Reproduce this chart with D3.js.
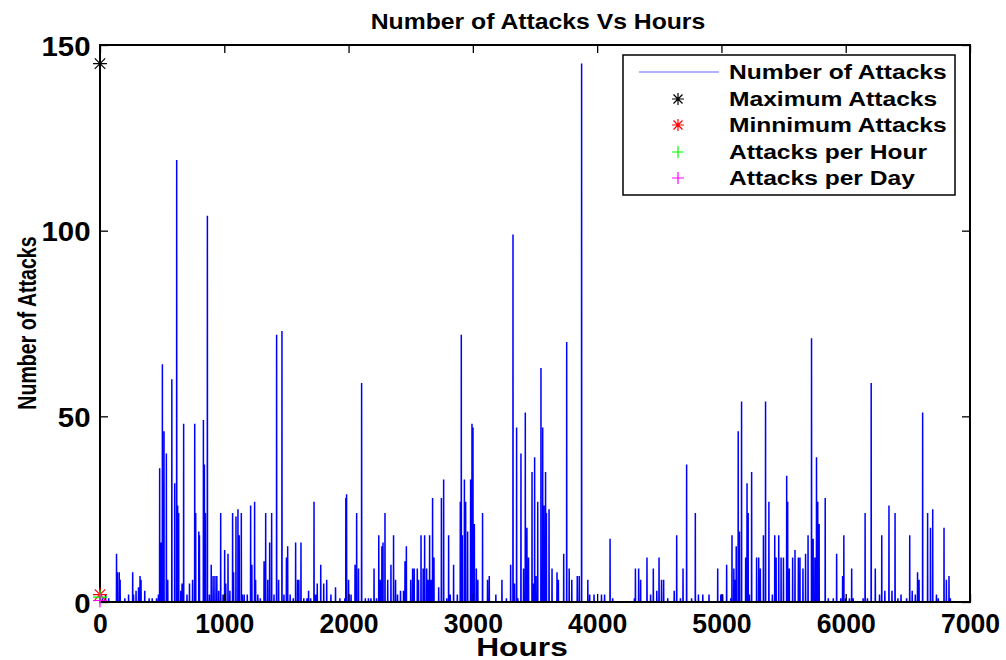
<!DOCTYPE html>
<html>
<head>
<meta charset="utf-8">
<script src="https://cdn.jsdelivr.net/npm/d3@7"></script>
<style>
  html, body { margin: 0; padding: 0; background: #fff; }
  svg { display: block; }
  text { font-family: "Liberation Sans", Arial, Helvetica, sans-serif; font-weight: bold; fill: #000; }
</style>
</head>
<body>
<svg id="chart" width="1006" height="660"></svg>
<script>
// Hourly attack counts: hours with recorded attacks and their counts (all other hours are 0)
const attackHours = [
  20, 45, 70, 133, 140, 155, 162, 200, 230, 263, 270, 290, 310, 322, 330, 360, 395, 420, 455, 470,
  480, 490, 502, 515, 534, 545, 578, 601, 617, 625, 633, 650, 660, 673, 700, 720, 745, 762, 770, 795,
  800, 832, 840, 848, 864, 880, 895, 910, 925, 940, 955, 971, 990, 1003, 1012, 1030, 1045, 1067, 1075, 1094,
  1110, 1120, 1137, 1145, 1160, 1185, 1212, 1222, 1244, 1252, 1270, 1290, 1320, 1333, 1350, 1365, 1381, 1400, 1421, 1437,
  1464, 1480, 1500, 1510, 1530, 1555, 1574, 1590, 1600, 1617, 1640, 1665, 1678, 1695, 1722, 1735, 1748, 1776, 1800, 1824,
  1858, 1895, 1930, 1970, 1978, 1984, 2000, 2020, 2052, 2065, 2080, 2105, 2135, 2160, 2180, 2205, 2225, 2243, 2255, 2268,
  2277, 2293, 2315, 2341, 2362, 2378, 2394, 2418, 2442, 2454, 2465, 2500, 2515, 2528, 2553, 2563, 2583, 2600, 2612, 2628,
  2640, 2652, 2665, 2676, 2687, 2725, 2747, 2765, 2790, 2805, 2818, 2845, 2875, 2899, 2907, 2915, 2932, 2942, 2958, 2982,
  2993, 3001, 3012, 3028, 3040, 3078, 3118, 3132, 3185, 3234, 3270, 3304, 3323, 3335, 3352, 3362, 3387, 3408, 3422, 3435,
  3448, 3476, 3487, 3497, 3508, 3522, 3548, 3562, 3572, 3585, 3592, 3613, 3637, 3677, 3688, 3731, 3755, 3775, 3796, 3840,
  3856, 3875, 3925, 3940, 3975, 4035, 4060, 4104, 4125, 4300, 4308, 4334, 4350, 4401, 4430, 4452, 4480, 4498, 4518, 4535,
  4568, 4620, 4640, 4670, 4691, 4720, 4760, 4790, 4815, 4850, 4900, 4970, 4995, 5010, 5042, 5075, 5085, 5100, 5110, 5119,
  5135, 5145, 5162, 5195, 5206, 5215, 5225, 5243, 5283, 5300, 5313, 5338, 5355, 5382, 5410, 5429, 5440, 5461, 5480, 5499,
  5525, 5533, 5546, 5573, 5592, 5619, 5632, 5656, 5677, 5697, 5725, 5738, 5752, 5765, 5775, 5786, 5835, 5860, 5900, 5927,
  5960, 5975, 5985, 6000, 6030, 6048, 6060, 6140, 6156, 6175, 6205, 6238, 6272, 6290, 6315, 6348, 6372, 6397, 6420, 6445,
  6490, 6515, 6535, 6560, 6578, 6590, 6619, 6659, 6682, 6700, 6730, 6745, 6791, 6810, 6831, 6842
];
const attackCounts = [
  1, 2, 1, 13, 8, 8, 6, 1, 2, 8, 2, 3, 4, 7, 6, 3, 1, 1, 1, 2,
  36, 16, 64, 46, 40, 6, 60, 32, 119, 26, 24, 3, 5, 48, 2, 5, 6, 48, 24, 19,
  18, 49, 37, 24, 104, 2, 10, 7, 7, 7, 3, 24, 2, 14, 5, 13, 3, 24, 8, 23,
  25, 18, 24, 2, 2, 2, 26, 10, 27, 6, 2, 1, 11, 24, 6, 16, 24, 2, 72, 6,
  73, 2, 12, 15, 2, 1, 16, 6, 6, 16, 1, 1, 3, 1, 27, 2, 5, 10, 5, 6,
  2, 4, 1, 1, 28, 29, 6, 2, 10, 24, 9, 59, 1, 1, 1, 9, 1, 18, 6, 15,
  16, 24, 6, 10, 18, 6, 2, 3, 3, 11, 15, 6, 9, 9, 9, 6, 18, 9, 18, 9,
  6, 18, 6, 28, 12, 4, 28, 33, 1, 18, 2, 10, 2, 27, 72, 18, 33, 27, 19, 33,
  48, 47, 21, 9, 6, 24, 6, 7, 2, 6, 1, 10, 99, 5, 47, 1, 40, 9, 51, 20,
  12, 35, 5, 39, 7, 27, 63, 47, 26, 35, 24, 25, 9, 8, 6, 13, 70, 9, 6, 7,
  7, 145, 6, 2, 2, 2, 2, 17, 1, 1, 9, 9, 6, 12, 2, 9, 3, 12, 6, 6,
  1, 3, 18, 1, 9, 37, 1, 24, 2, 2, 2, 9, 2, 2, 10, 1, 18, 9, 6, 15,
  46, 19, 54, 12, 32, 24, 2, 35, 12, 12, 9, 18, 54, 27, 2, 18, 12, 18, 12, 12,
  34, 27, 9, 12, 14, 12, 12, 9, 13, 18, 71, 17, 12, 39, 27, 21, 28, 1, 1, 13,
  1, 7, 18, 1, 1, 9, 1, 1, 24, 1, 59, 9, 2, 18, 3, 26, 3, 24, 1, 2,
  1, 18, 3, 2, 8, 6, 51, 24, 20, 25, 2, 1, 20, 6, 7, 1
];
const lastHour = 6850;

// Summary markers plotted at hour 0
const summaryNames = ["Maximum Attacks", "Minnimum Attacks", "Attacks per Hour", "Attacks per Day"];
const summaryValues = [145, 2, 1.3, 0.4];
const summaryColors = ["#000000", "#ff0000", "#00ff00", "#ff00ff"];
const summaryShapes = ["asterisk", "asterisk", "plus", "plus"];

const xTicks = [0, 1000, 2000, 3000, 4000, 5000, 6000, 7000];
const yTicks = [0, 50, 100, 150];

const svg = d3.select("#chart");
const plotLeft = 100, plotRight = 970, plotTop = 45, plotBottom = 602;

const x = d3.scaleLinear().domain([0, 7000]).range([plotLeft, plotRight]);
const y = d3.scaleLinear().domain([0, 150]).range([plotBottom, plotTop]);

// full hourly series
const countByHour = new Map(attackHours.map((h, i) => [h, attackCounts[i]]));
const series = d3.range(0, lastHour + 1).map(h => ({ h, v: countByHour.get(h) || 0 }));

const plot = svg.append("g");
plot.append("path")
  .datum(series)
  .attr("fill", "none")
  .attr("stroke", "#0000ff")
  .attr("stroke-width", 1.5)
  .attr("d", d3.line().x(d => x(d.h)).y(d => y(d.v)));

// Axes box with inward ticks on all four sides
const tickLen = 8;
const axisBottom = svg.append("g").attr("transform", `translate(0,${plotBottom})`)
  .call(d3.axisBottom(x).tickValues(xTicks).tickSizeInner(-tickLen).tickSizeOuter(0).tickPadding(16).tickFormat(d3.format("d")));
const axisTop = svg.append("g").attr("transform", `translate(0,${plotTop})`)
  .call(d3.axisTop(x).tickValues(xTicks).tickSizeInner(-tickLen).tickSizeOuter(0).tickFormat(""));
const axisLeft = svg.append("g").attr("transform", `translate(${plotLeft},0)`)
  .call(d3.axisLeft(y).tickValues(yTicks).tickSizeInner(-tickLen).tickSizeOuter(0).tickPadding(18).tickFormat(d3.format("d")));
const axisRight = svg.append("g").attr("transform", `translate(${plotRight},0)`)
  .call(d3.axisRight(y).tickValues(yTicks).tickSizeInner(-tickLen).tickSizeOuter(0).tickFormat(""));

[axisBottom, axisTop, axisLeft, axisRight].forEach(g => {
  g.select(".domain").remove();
  g.selectAll(".tick line").attr("stroke", "#000").attr("stroke-width", 1.3);
});
svg.append("rect")
  .attr("x", plotLeft).attr("y", plotTop).attr("width", plotRight - plotLeft).attr("height", plotBottom - plotTop)
  .attr("fill", "none").attr("stroke", "#000").attr("stroke-width", 2);

axisBottom.selectAll(".tick text")
  .attr("font-size", 28).attr("font-family", "Liberation Sans, Arial, sans-serif").attr("font-weight", "bold")
  .attr("dy", "0.55em").attr("fill", "#000").attr("transform", "scale(0.95,1)");
axisLeft.selectAll(".tick text")
  .attr("font-size", 28).attr("font-family", "Liberation Sans, Arial, sans-serif").attr("font-weight", "bold")
  .attr("x", -9).attr("dy", "0.36em").attr("fill", "#000").attr("transform", "scale(1.05,1)");

// Summary markers at hour 0
function drawMarker(g, shape, cx, cy, r, color) {
  const path = d3.path();
  path.moveTo(cx - r, cy); path.lineTo(cx + r, cy);
  path.moveTo(cx, cy - r); path.lineTo(cx, cy + r);
  if (shape === "asterisk") {
    const d = r * 0.75;
    path.moveTo(cx - d, cy - d); path.lineTo(cx + d, cy + d);
    path.moveTo(cx - d, cy + d); path.lineTo(cx + d, cy - d);
  }
  g.append("path").attr("d", path.toString()).attr("stroke", color).attr("stroke-width", 1.2).attr("fill", "none");
}
const markers = svg.append("g");
summaryValues.forEach((v, i) => {
  drawMarker(markers, summaryShapes[i], x(0), y(v), 7, summaryColors[i]);
});

// Title and axis labels (scaled text to match the figure's letter proportions)
function scaledText(parent, txt, tx, ty, size, sx, sy, anchor, rotate) {
  const g = parent.append("g")
    .attr("transform", `translate(${tx},${ty})${rotate ? " rotate(" + rotate + ")" : ""} scale(${sx},${sy})`);
  g.append("text").attr("text-anchor", anchor).attr("font-size", size).text(txt);
  return g;
}
scaledText(svg, "Number of Attacks Vs Hours", 538, 29, 22.5, 1.1, 1, "middle");
scaledText(svg, "Hours", 522, 656, 26, 1.22, 1, "middle");
scaledText(svg, "Number of Attacks", 36, 323, 22, 0.89, 1.2, "middle", -90);

// Legend
const legend = svg.append("g");
legend.append("rect").attr("x", 623).attr("y", 55).attr("width", 332).attr("height", 140)
  .attr("fill", "#fff").attr("stroke", "#000").attr("stroke-width", 1.5);
const legendNames = ["Number of Attacks"].concat(summaryNames);
const rowY = [72, 99, 125, 152, 178];
legendNames.forEach((name, i) => {
  const ry = rowY[i];
  if (i === 0) {
    legend.append("line").attr("x1", 639).attr("x2", 719).attr("y1", ry).attr("y2", ry)
      .attr("stroke", "#0000ff").attr("stroke-opacity", 0.6).attr("stroke-width", 1.2);
  } else {
    drawMarker(legend, summaryShapes[i - 1], 678, ry, 6, summaryColors[i - 1]);
  }
  scaledText(legend, name, 729, ry + 7, 20, 1.23, 1, "start");
});
</script>
</body>
</html>
